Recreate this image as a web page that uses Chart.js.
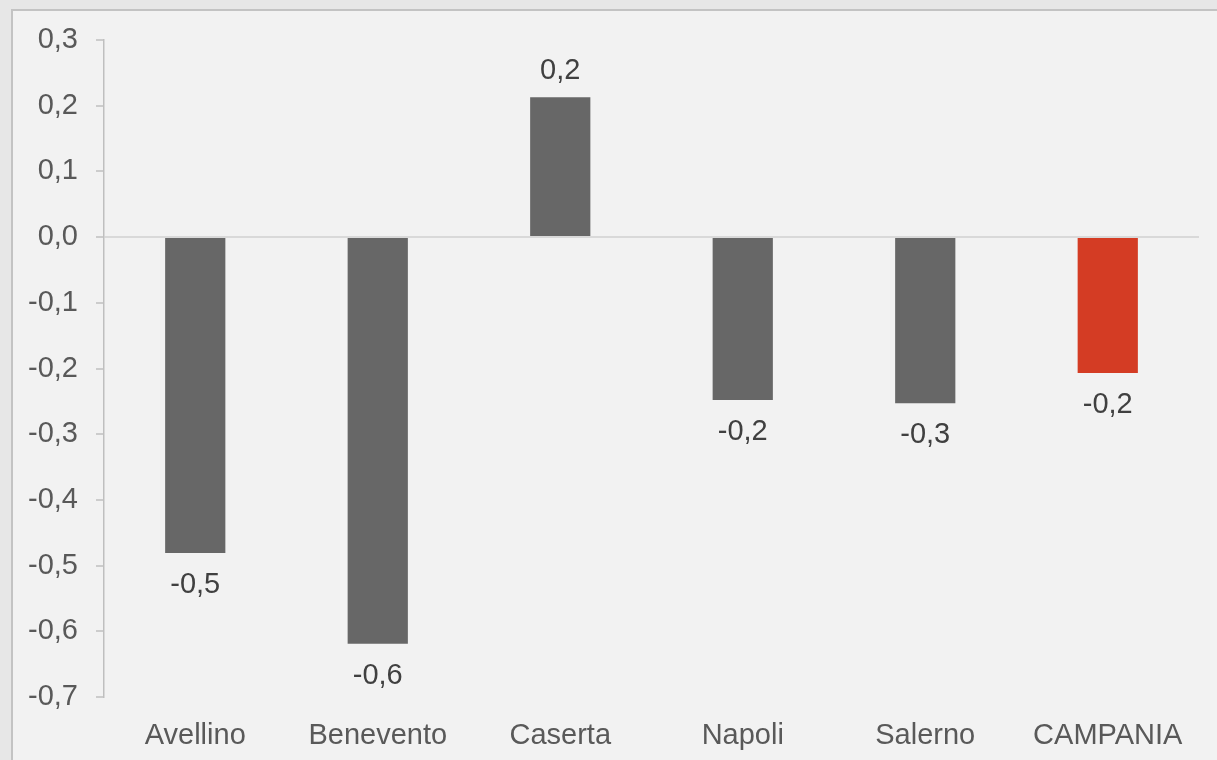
<!DOCTYPE html>
<html>
<head>
<meta charset="utf-8">
<script src="https://cdn.jsdelivr.net/npm/chart.js@4"></script>
<style>
  html, body { margin: 0; padding: 0; background: #e7e7e7; overflow: hidden; }
  #cornice { position: absolute; left: 11px; top: 9px; width: 1230px; height: 780px;
             border: 2px solid #c3c3c3; background: #f2f2f2; }
  #box { position: absolute; left: 0; top: 0; width: 1217px; height: 760px; }
</style>
</head>
<body>
<div id="cornice"></div>
<div id="box"><canvas id="grafico"></canvas></div>
<script>
// province e variazione
const province = ['Avellino', 'Benevento', 'Caserta', 'Napoli', 'Salerno', 'CAMPANIA'];
const variazioni = [-0.481, -0.619, 0.213, -0.248, -0.253, -0.207];
const colori = ['#676767', '#676767', '#676767', '#676767', '#676767', '#d43c24'];

const fmt = v => (Math.abs(v) < 1e-9 ? 0 : v).toFixed(1).replace('.', ',');

// etichette dei valori sotto/sopra le barre
const etichette = {
  id: 'etichette',
  afterDatasetsDraw(chart) {
    const ctx = chart.ctx;
    const meta = chart.getDatasetMeta(0);
    ctx.save();
    ctx.font = '29px "Liberation Sans", Arial, sans-serif';
    ctx.fillStyle = '#404040';
    ctx.textAlign = 'center';
    ctx.textBaseline = 'middle';
    meta.data.forEach((bar, i) => {
      const v = variazioni[i];
      const y = v < 0 ? bar.y + 32 : bar.y - 26;
      ctx.fillText(fmt(v), bar.x, y);
    });
    ctx.restore();
  }
};

new Chart(document.getElementById('grafico'), {
  type: 'bar',
  data: {
    labels: province,
    datasets: [{
      data: variazioni,
      backgroundColor: colori,
      borderWidth: 0,
      categoryPercentage: 1,
      barPercentage: 0.33
    }]
  },
  options: {
    responsive: true,
    maintainAspectRatio: false,
    animation: false,
    layout: { padding: { top: 40, right: 18, left: 0, bottom: 0 } },
    plugins: { legend: { display: false }, tooltip: { enabled: false } },
    scales: {
      x: {
        grid: { display: false },
        border: { display: false },
        ticks: { color: '#595959', padding: 14, font: { family: '"Liberation Sans", Arial, sans-serif', size: 29 } },
        afterFit: s => { s.height = 63; }
      },
      y: {
        min: -0.7,
        max: 0.3,
        ticks: {
          stepSize: 0.1,
          padding: 18,
          color: '#595959',
          font: { family: '"Liberation Sans", Arial, sans-serif', size: 29 },
          callback: v => fmt(v)
        },
        grid: {
          color: c => Math.abs(c.tick.value) < 1e-9 ? '#d9d9d9' : 'rgba(0,0,0,0)',
          lineWidth: 2,
          tickLength: 8,
          tickColor: '#bfbfbf',
          tickWidth: 1.5
        },
        border: { color: '#bfbfbf', width: 1.5 },
        afterFit: s => { s.width = 104; }
      }
    }
  },
  plugins: [etichette]
});
</script>
</body>
</html>
